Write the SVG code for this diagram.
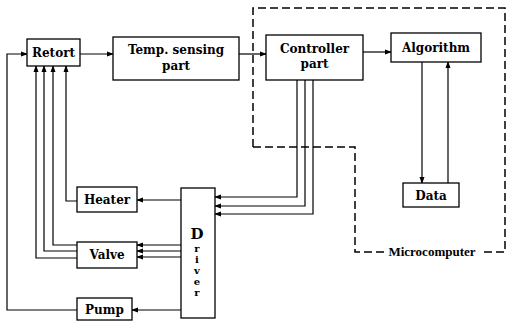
<svg xmlns="http://www.w3.org/2000/svg" width="507" height="323" viewBox="0 0 507 323">
<defs>
<marker id="ah" markerWidth="7" markerHeight="6" refX="6" refY="3" orient="auto" markerUnits="userSpaceOnUse">
<path d="M0,0.5 L7,3 L0,5.5 Z" fill="#000"/>
</marker>
<style>
.box{fill:#fff;stroke:#000;stroke-width:1.3}
.t{font-family:"DejaVu Serif","Liberation Serif",serif;font-weight:bold;font-size:12px;fill:#000;text-anchor:middle}
.m{font-family:"Liberation Serif","DejaVu Serif",serif;font-weight:bold;font-size:13px;fill:#000;text-anchor:middle}
.c{fill:none;stroke:#000;stroke-width:1.2;marker-end:url(#ah)}
.d{fill:none;stroke:#000;stroke-width:1.5;stroke-dasharray:8 4}
</style>
</defs>
<rect width="507" height="323" fill="#fff"/>
<g id="microcomputer">
<path class="d" d="M253,147 V8 H505 V252 H480"/>
<path class="d" d="M253,147 H355 V252 H386"/>
<text class="m" x="432" y="256">Microcomputer</text>
</g>
<g id="connectors">
<path class="c" d="M77,310 H7 V54 H27"/>
<path class="c" d="M80,54 H113"/>
<path class="c" d="M239,54 H266"/>
<path class="c" d="M363,52 H391"/>
<path class="c" d="M422,62 V183"/>
<path class="c" d="M448,183 V62"/>
<path class="c" d="M297,80 V197 H215"/>
<path class="c" d="M305,80 V206 H215"/>
<path class="c" d="M313,80 V214 H215"/>
<path class="c" d="M181,200 H137"/>
<path class="c" d="M181,245 H137"/>
<path class="c" d="M181,251 H137"/>
<path class="c" d="M181,257 H137"/>
<path class="c" d="M181,310 H132"/>
<path class="c" d="M77,201 H66 V66"/>
<path class="c" d="M77,245 H53 V66"/>
<path class="c" d="M77,251 H44 V66"/>
<path class="c" d="M77,258 H36 V66"/>
</g>
<g id="retort"><rect class="box" x="27" y="39" width="53" height="27"/><text class="t" x="53.5" y="57">Retort</text></g>
<g id="temp"><rect class="box" x="113" y="37" width="126" height="43"/><text class="t" x="176" y="54">Temp. sensing</text><text class="t" x="176" y="70">part</text></g>
<g id="controller"><rect class="box" x="266" y="35" width="97" height="45"/><text class="t" x="314.5" y="53">Controller</text><text class="t" x="314.5" y="68">part</text></g>
<g id="algorithm"><rect class="box" x="391" y="33" width="90" height="29"/><text class="t" x="436" y="52">Algorithm</text></g>
<g id="data"><rect class="box" x="403" y="183" width="56" height="24"/><text class="t" x="431" y="200">Data</text></g>
<g id="heater"><rect class="box" x="77" y="187" width="60" height="25"/><text class="t" x="107" y="204">Heater</text></g>
<g id="valve"><rect class="box" x="77" y="242" width="60" height="26"/><text class="t" x="107" y="259">Valve</text></g>
<g id="pump"><rect class="box" x="77" y="298" width="55" height="22"/><text class="t" x="104.5" y="314">Pump</text></g>
<g id="driver"><rect class="box" x="181" y="188" width="34" height="130"/>
<text x="197" y="225" style="font-family:'DejaVu Serif','Liberation Serif',serif;font-weight:bold;font-size:10px;writing-mode:vertical-rl;text-orientation:upright"><tspan style="font-size:15px">D</tspan>river</text>
</g>
</svg>
